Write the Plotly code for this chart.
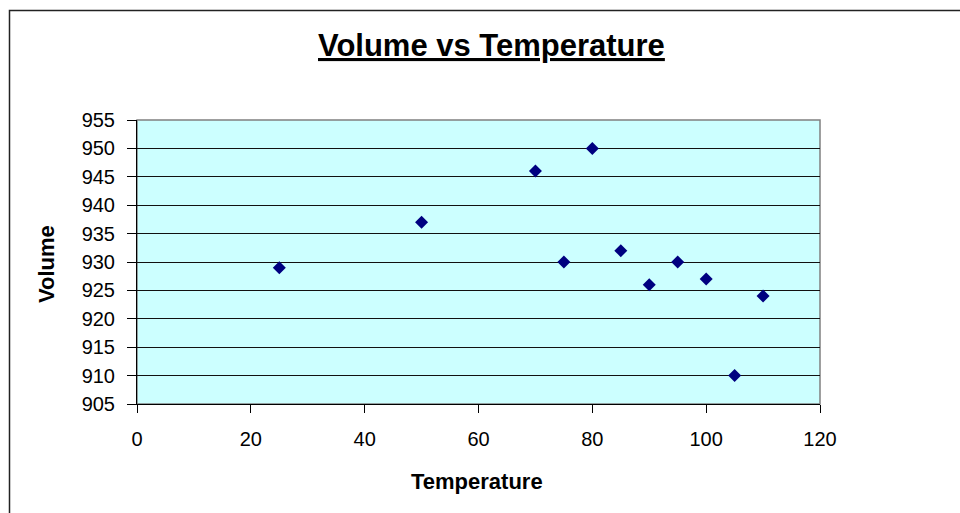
import plotly.graph_objects as go

temperature = [25, 50, 70, 75, 80, 85, 90, 95, 100, 105, 110]
volume = [929, 937, 946, 930, 950, 932, 926, 930, 927, 910, 924]
x_ticks = [0, 20, 40, 60, 80, 100, 120]
y_ticks = [905, 910, 915, 920, 925, 930, 935, 940, 945, 950, 955]

W, H = 960, 513
L, R, T, B = 137, 140, 120, 109
pw, ph = W - L - R, H - T - B

def px(xp):
    return (xp - L) / pw

def py(yp):
    return (H - B - yp) / ph

font = "Liberation Sans, Arial, sans-serif"

fig = go.Figure()
fig.add_trace(go.Scatter(
    x=temperature, y=volume, mode="markers",
    marker=dict(symbol="diamond", size=10, color="#000080",
                line=dict(width=0)),
    showlegend=False, cliponaxis=False,
))

fig.update_layout(
    width=W, height=H,
    margin=dict(l=L, r=R, t=T, b=B),
    paper_bgcolor="white",
    plot_bgcolor="#CCFFFF",
    font=dict(family=font, color="black"),
    xaxis=dict(range=[0, 120], tickvals=x_ticks, ticks="outside", ticklen=8,
               tickcolor="black", showgrid=False, zeroline=False,
               showline=True, linecolor="black", linewidth=1,
               tickfont=dict(size=20, family=font), ticklabelstandoff=9),
    yaxis=dict(range=[905, 955], tickvals=y_ticks, ticks="outside", ticklen=9,
               tickcolor="black", showgrid=True, gridcolor="#111111", gridwidth=1.2,
               zeroline=False, showline=True, linecolor="black", linewidth=1,
               tickfont=dict(size=20, family=font), ticklabelstandoff=8),
    shapes=[
        dict(type="rect", xref="paper", yref="paper", x0=0, x1=1, y0=0, y1=1,
             line=dict(color="#808080", width=1.5), layer="below"),
        dict(type="rect", xref="paper", yref="paper",
             x0=px(9.5), x1=px(990), y0=py(540), y1=py(10.5),
             line=dict(color="#222222", width=1.5), fillcolor="rgba(0,0,0,0)"),
    ],
    annotations=[
        dict(text="<b><u>Volume vs Temperature</u></b>", xref="paper", yref="paper",
             x=px(491.5), y=py(45), xanchor="center", yanchor="middle",
             showarrow=False, font=dict(size=31, family=font)),
        dict(text="<b>Temperature</b>", xref="paper", yref="paper",
             x=px(477), y=py(481), xanchor="center", yanchor="middle",
             showarrow=False, font=dict(size=22, family=font)),
        dict(text="<b>Volume</b>", xref="paper", yref="paper",
             x=px(46), y=py(264), xanchor="center", yanchor="middle",
             textangle=-90, showarrow=False, font=dict(size=22, family=font)),
    ],
)

fig.write_html("out.html")
